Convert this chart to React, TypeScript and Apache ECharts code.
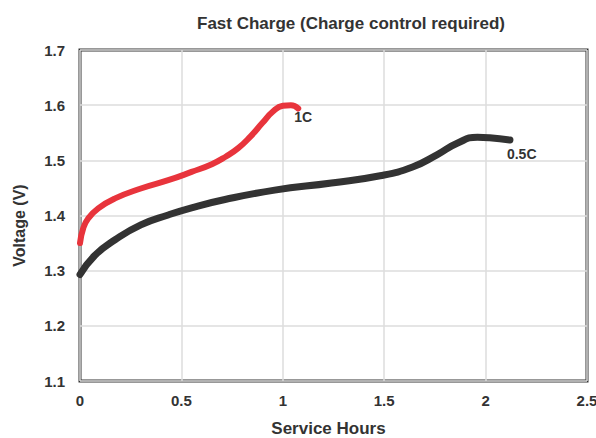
import React, { useEffect, useRef } from "react";
import * as echarts from "echarts";

const hours1C = [0, 0.016, 0.041, 0.09, 0.173, 0.3, 0.435, 0.55, 0.65, 0.72, 0.78, 0.84, 0.9, 0.95, 1.0, 1.04, 1.076];
const volts1C = [1.35, 1.377, 1.395, 1.413, 1.431, 1.449, 1.464, 1.479, 1.493, 1.507, 1.522, 1.543, 1.568, 1.588, 1.599, 1.6, 1.594];

const hoursHalfC = [0, 0.074, 0.173, 0.3, 0.435, 0.55, 0.715, 0.96, 1.24, 1.48, 1.64, 1.76, 1.86, 1.96, 2.02, 2.12];
const voltsHalfC = [1.293, 1.328, 1.356, 1.383, 1.401, 1.414, 1.429, 1.446, 1.459, 1.472, 1.488, 1.51, 1.531, 1.542, 1.541, 1.537];

const seriesNames = ["1C", "0.5C"];
const titleText = "Fast Charge (Charge control required)";
const xName = "Service Hours";
const yName = "Voltage (V)";

const pair = (xs: number[], ys: number[]) => xs.map((x, i) => [x, ys[i]]);

export default function App() {
  const ref = useRef<HTMLDivElement>(null);
  useEffect(() => {
    if (!ref.current) return;
    const chart = echarts.init(ref.current, null, { renderer: "svg" });
    const font = "'Liberation Sans', Arial, sans-serif";
    chart.setOption({
      animation: false,
      backgroundColor: "#fff",
      title: {
        text: titleText,
        left: 192,
        top: 10,
        textStyle: { fontFamily: font, fontSize: 17, fontWeight: "bold", color: "#333" },
      },
      grid: {
        left: 80,
        right: 9,
        top: 50,
        bottom: 57,
        outerBoundsMode: "none",
        containLabel: false,
        show: true,
        borderColor: "#333",
        borderWidth: 3,
      },
      xAxis: {
        type: "value",
        min: 0,
        max: 2.5,
        interval: 0.5,
        name: xName,
        nameLocation: "middle",
        nameGap: 39,
        nameTextStyle: { fontFamily: font, fontSize: 17, fontWeight: "bold", color: "#333", padding: [0, 10, 0, 0] },
        axisLine: { show: false },
        axisTick: { show: false },
        axisLabel: { fontFamily: font, fontSize: 15, fontWeight: "bold", color: "#333", margin: 12 },
        splitLine: { show: true, lineStyle: { color: "#dcdcdc", width: 1.5 } },
      },
      yAxis: {
        type: "value",
        min: 1.1,
        max: 1.7,
        interval: 0.1,
        name: yName,
        nameLocation: "middle",
        nameGap: 53,
        nameTextStyle: { fontFamily: font, fontSize: 16, fontWeight: "bold", color: "#333", padding: [0, 20, 0, 0] },
        axisLine: { show: false },
        axisTick: { show: false },
        axisLabel: {
          fontFamily: font,
          fontSize: 15,
          fontWeight: "bold",
          color: "#333",
          margin: 15,
          formatter: (v: number) => v.toFixed(1),
        },
        splitLine: { show: true, lineStyle: { color: "#dcdcdc", width: 1.5 } },
      },
      series: [
        {
          name: seriesNames[1],
          type: "line",
          smooth: 0.5,
          showSymbol: false,
          data: pair(hoursHalfC, voltsHalfC),
          lineStyle: { color: "#333", width: 7, cap: "round", join: "round" },
          endLabel: {
            show: true,
            formatter: seriesNames[1],
            distance: 0,
            offset: [-3, 14],
            fontFamily: font,
            fontSize: 14,
            fontWeight: "bold",
            color: "#333",
          },
        },
        {
          name: seriesNames[0],
          type: "line",
          smooth: 0.5,
          showSymbol: false,
          data: pair(hours1C, volts1C),
          lineStyle: { color: "#e8343c", width: 6, cap: "round", join: "round" },
          endLabel: {
            show: true,
            formatter: seriesNames[0],
            distance: 0,
            offset: [-4, 9],
            fontFamily: font,
            fontSize: 14,
            fontWeight: "bold",
            color: "#333",
          },
        },
      ],
    });
    return () => chart.dispose();
  }, []);
  return <div ref={ref} style={{ width: 596, height: 438, position: "absolute", left: 0, top: 0 }} />;
}
